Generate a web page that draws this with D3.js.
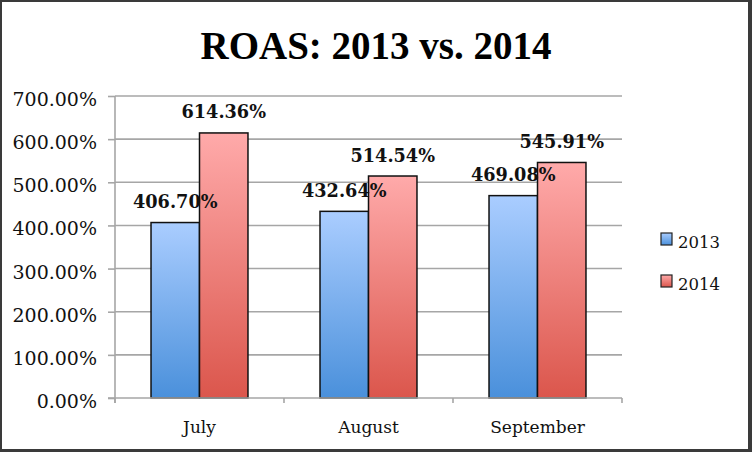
<!DOCTYPE html>
<html>
<head>
<meta charset="utf-8">
<script src="https://cdn.jsdelivr.net/npm/d3@7/dist/d3.min.js"></script>
<style>
  html, body { margin: 0; padding: 0; background: #fff; }
  svg { display: block; }
</style>
</head>
<body>
<svg id="chart" width="752" height="452"></svg>
<script>
const categories = ["July", "August", "September"];
const seriesNames = ["2013", "2014"];
const values2013 = [406.70, 432.64, 469.08];
const values2014 = [614.36, 514.54, 545.91];
const yTicks = [0, 100, 200, 300, 400, 500, 600, 700];
const titleText = "ROAS: 2013 vs. 2014";

(function () {
const seriesValues = { "2013": values2013, "2014": values2014 };
const gradients = {
  "2013": ["#aacdff", "#4a90db"],
  "2014": ["#ffaaaa", "#db564c"]
};

const svg = d3.select("#chart");
const W = 752, H = 452;

// frame
svg.append("rect").attr("x", 0).attr("y", 0).attr("width", W).attr("height", H).attr("fill", "#3a3a3a");
svg.append("rect").attr("x", 2).attr("y", 2).attr("width", 746).attr("height", 447).attr("fill", "#ffffff");

const defs = svg.append("defs");
seriesNames.forEach(s => {
  const g = defs.append("linearGradient").attr("id", "grad" + s)
    .attr("x1", 0).attr("y1", 0).attr("x2", 0).attr("y2", 1);
  g.append("stop").attr("offset", "0%").attr("stop-color", gradients[s][0]);
  g.append("stop").attr("offset", "100%").attr("stop-color", gradients[s][1]);
});

const pLeft = 115, pRight = 622, pTop = 96, pBottom = 398;

const y = d3.scaleLinear().domain([0, 700]).range([pBottom, pTop]);
const x0 = d3.scaleBand().domain(categories).range([pLeft, pRight]).padding(0);
const x1 = d3.scaleBand().domain(seriesNames).range([0, x0.bandwidth()]).paddingInner(0).paddingOuter(0.743);

// gridlines
svg.append("g").selectAll("line").data(yTicks.filter(t => t > 0)).join("line")
  .attr("x1", pLeft).attr("x2", pRight)
  .attr("y1", d => y(d)).attr("y2", d => y(d))
  .attr("stroke", "#a6a6a6").attr("stroke-width", 1.6);

// y axis
const yAxis = d3.axisLeft(y).tickValues(yTicks).tickSize(7).tickFormat(d => d.toFixed(2) + "%");
const yg = svg.append("g").attr("transform", `translate(${pLeft},0)`).call(yAxis);
yg.select(".domain").remove();
yg.selectAll(".tick line").attr("stroke", "#a6a6a6").attr("stroke-width", 1.6);
yg.selectAll(".tick text")
  .attr("x", -18).attr("dy", "9.5px").attr("y", 0)
  .attr("font-family", "DejaVu Serif").attr("font-size", 19).attr("fill", "#111")
  .attr("text-anchor", "end");

// bars
const groups = svg.append("g").selectAll("g").data(categories).join("g")
  .attr("transform", d => `translate(${x0(d)},0)`);

groups.selectAll("rect").data((c, i) => seriesNames.map(s => ({ s, v: seriesValues[s][i] }))).join("rect")
  .attr("x", d => x1(d.s))
  .attr("width", x1.bandwidth())
  .attr("y", d => y(d.v))
  .attr("height", d => y(0) - y(d.v))
  .attr("fill", d => `url(#grad${d.s})`)
  .attr("stroke", "#111").attr("stroke-width", 1.5);

// axis lines (drawn after bars)
svg.append("line").attr("x1", pLeft).attr("x2", pLeft).attr("y1", pTop).attr("y2", pBottom + 5)
  .attr("stroke", "#a6a6a6").attr("stroke-width", 1.6);

const xAxis = d3.axisBottom(x0).tickSize(0).tickFormat(d => d);
const xg = svg.append("g").attr("transform", `translate(0,${pBottom})`).call(xAxis);
xg.select(".domain").remove();
xg.selectAll(".tick text")
  .attr("y", 35).attr("dy", 0)
  .attr("font-family", "DejaVu Serif").attr("font-size", 17).attr("fill", "#111");

svg.append("line").attr("x1", pLeft - 7).attr("x2", pRight).attr("y1", pBottom).attr("y2", pBottom)
  .attr("stroke", "#a6a6a6").attr("stroke-width", 1.6);
const bounds = categories.map(c => x0(c)).concat([x0(categories[categories.length - 1]) + x0.bandwidth()]);
svg.append("g").selectAll("line").data(bounds).join("line")
  .attr("x1", d => d).attr("x2", d => d).attr("y1", pBottom).attr("y2", pBottom + 5)
  .attr("stroke", "#a6a6a6").attr("stroke-width", 1.6);

// data labels
groups.selectAll("text.lbl").data((c, i) => seriesNames.map(s => ({ s, v: seriesValues[s][i] }))).join("text")
  .attr("class", "lbl")
  .attr("x", d => x1(d.s) + x1.bandwidth() / 2)
  .attr("y", d => y(d.v) - 14.5)
  .attr("text-anchor", "middle")
  .attr("font-family", "DejaVu Serif").attr("font-weight", "bold").attr("font-size", 17.7)
  .attr("fill", "#111")
  .text(d => d.v.toFixed(2) + "%");

// title
svg.append("text").attr("x", 376).attr("y", 59).attr("text-anchor", "middle")
  .attr("font-family", "Liberation Serif").attr("font-weight", "bold").attr("font-size", 39)
  .attr("fill", "#000").text(titleText);

// legend
const legend = svg.append("g").selectAll("g").data(seriesNames).join("g")
  .attr("transform", (d, i) => `translate(661,${233 + i * 42})`);
legend.append("rect").attr("width", 11).attr("height", 12)
  .attr("fill", d => `url(#grad${d})`).attr("stroke", "#222").attr("stroke-width", 1.2);
legend.append("text").attr("x", 17).attr("y", 15)
  .attr("font-family", "DejaVu Serif").attr("font-size", 16.5).attr("fill", "#111")
  .text(d => d);
})();
</script>
</body>
</html>
